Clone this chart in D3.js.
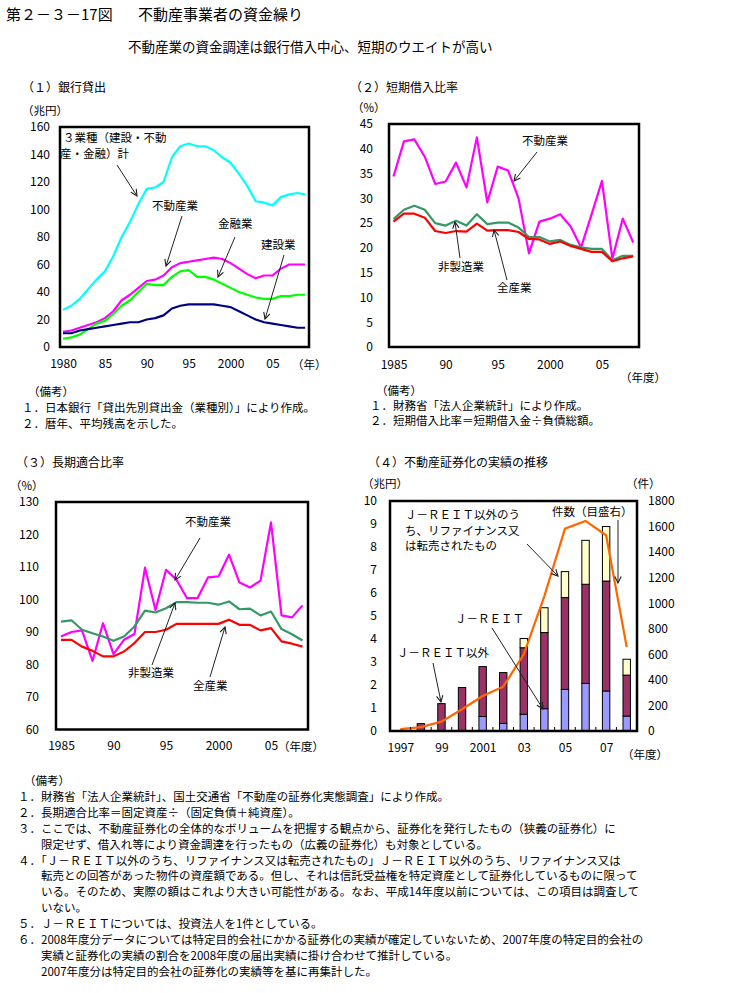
<!DOCTYPE html>
<html><head><meta charset="utf-8">
<script src="https://cdn.jsdelivr.net/npm/d3@7/dist/d3.min.js"></script>
<style>
body{margin:0;background:#fff;}
svg text{font-family:"Noto Sans CJK JP","Noto Sans",sans-serif;fill:#000;}
</style></head><body>
<svg id="chart" width="745" height="993"></svg>
<script>
// ---------- DATA ----------
// (1) Bank lending (trillion yen), points at start of each year, last = end of 2008
const bankYears = [1980,1981,1982,1983,1984,1985,1986,1987,1988,1989,1990,1991,1992,1993,1994,1995,1996,1997,1998,1999,2000,2001,2002,2003,2004,2005,2006,2007,2008,2008.9];
const bankTotal3 = [27,30,35,42,49,55,66,80,91,104,115,116,120,138,146,148,146,146,143,138,134,126,117,106,105,103,109,111,112,111];
const bankRealEstate = [11,12,14,16,18,21,26,34,38,43,48,49,52,58,61,62,63,64,65,64,61,57,53,50,52,52,57,60,60,60];
const bankFinance = [6,7,9,13,17,19,24,30,34,40,46,45,45,51,55,56,51,51,49,46,43,40,38,36,35,35,37,37,38,38];
const bankConstruction = [10,10,12,13,14,15,16,17,18,18,20,21,23,28,30,31,31,31,31,30,29,26,23,20,18,17,16,15,14,14];
const bankTickYears = [1980,1985,1990,1995,2000,2005];
const bankTickLabels = ["1980","85","90","95","2000","05"];

// (2) Short-term borrowing ratio (%), fiscal years
const fyYears = [1985,1986,1987,1988,1989,1990,1991,1992,1993,1994,1995,1996,1997,1998,1999,2000,2001,2002,2003,2004,2005,2006,2007,2008];
const stRealEstate = [34.4,41.5,41.9,38.4,32.9,33.4,37.2,32.2,42.3,29.2,36.4,35.6,30.0,18.9,25.3,25.9,26.8,24.3,20.1,26.7,33.5,17.8,25.9,21.1];
const stNonMfg = [25.8,27.7,28.5,27.7,25.0,24.5,25.5,24.5,26.8,24.8,25.1,25.1,24.1,22.2,22.2,21.3,21.6,20.6,20.1,19.8,19.8,17.5,18.4,18.4];
const stAll = [25.3,26.9,26.9,26.1,23.4,23.0,23.4,23.3,24.9,23.5,23.6,23.6,23.2,21.8,21.7,20.8,21.3,20.4,19.8,19.2,19.2,17.3,17.9,18.3];
const fyTickYears = [1985,1990,1995,2000,2005];
const fyTickLabels = ["1985","90","95","2000","05"];

// (3) Long-term fitness ratio (%)
const ltRealEstate = [88.6,90.0,90.5,81.1,92.7,83.2,87.6,89.4,109.8,96.8,109.1,106.1,100.4,100.4,106.8,107.1,113.8,105.2,103.7,105.8,123.7,95.1,94.5,98.2];
const ltNonMfg = [93.2,93.6,90.7,89.6,88.6,87.3,88.6,91.7,96.6,96.0,97.3,99.2,99.2,99.0,99.0,98.4,99.4,97.0,97.2,95.1,96.3,90.9,89.3,87.4];
const ltAll = [87.6,87.6,85.5,84.2,82.5,82.5,84.0,86.6,90.0,90.0,90.7,92.5,92.5,92.5,92.5,92.5,93.8,92.2,92.2,90.5,91.2,87.1,86.4,85.5];

// (4) Real-estate securitization (trillion yen) and count (right axis)
const secYears = [1997,1998,1999,2000,2001,2002,2003,2004,2005,2006,2007,2008];
const secJreit = [0,0,0,0,0.63,0.33,0.73,0.97,1.81,2.07,1.74,0.65];
const secOther = [0,0.32,1.19,1.89,2.17,2.21,2.89,3.31,3.99,4.31,4.78,1.78];
const secRefi = [0,0,0,0,0,0,0.40,1.08,1.13,1.91,2.37,0.69];
const secCount = [15,30,73,170,274,347,600,1056,1584,1644,1532,657];
const secTickYears = [1997,1999,2001,2003,2005,2007];
const secTickLabels = ["1997","99","2001","03","05","07"];

const notesTop = ["（備考）","１．日本銀行「貸出先別貸出金（業種別）」により作成。","２．暦年、平均残高を示した。"];
const notesTop2 = ["（備考）","１．財務省「法人企業統計」により作成。","２．短期借入比率＝短期借入金÷負債総額。"];
const notesBottom = [
 "（備考）",
 "１．財務省「法人企業統計」、国土交通省「不動産の証券化実態調査」により作成。",
 "２．長期適合比率＝固定資産÷（固定負債＋純資産）。",
 "３．ここでは、不動産証券化の全体的なボリュームを把握する観点から、証券化を発行したもの（狭義の証券化）に",
 "　　限定せず、借入れ等により資金調達を行ったもの（広義の証券化）も対象としている。",
 "４．「Ｊ－ＲＥＩＴ以外のうち、リファイナンス又は転売されたもの」Ｊ－ＲＥＩＴ以外のうち、リファイナンス又は",
 "　　転売との回答があった物件の資産額である。但し、それは信託受益権を特定資産として証券化しているものに限って",
 "　　いる。そのため、実際の額はこれより大きい可能性がある。なお、平成14年度以前については、この項目は調査して",
 "　　いない。",
 "５．Ｊ－ＲＥＩＴについては、投資法人を1件としている。",
 "６．2008年度分データについては特定目的会社にかかる証券化の実績が確定していないため、2007年度の特定目的会社の",
 "　　実績と証券化の実績の割合を2008年度の届出実績に掛け合わせて推計している。",
 "　　2007年度分は特定目的会社の証券化の実績等を基に再集計した。"
];

// ---------- DRAW ----------
const svg = d3.select("#chart");
svg.append("rect").attr("width",745).attr("height",993).attr("fill","#fff");
const defs = svg.append("defs");
defs.append("marker").attr("id","arr").attr("viewBox","0 0 10 10").attr("refX",9).attr("refY",5)
  .attr("markerWidth",8).attr("markerHeight",8).attr("orient","auto").attr("markerUnits","userSpaceOnUse")
  .append("path").attr("d","M1,1 L9,5 L1,9").attr("fill","none").attr("stroke","#222").attr("stroke-width",1.4);

function txt(x,y,s,size,anchor){
  return svg.append("text").attr("x",x).attr("y",y).attr("font-size",size||11.5)
    .attr("text-anchor",anchor||"start").text(s);
}
function arrow(x1,y1,x2,y2){
  svg.append("line").attr("x1",x1).attr("y1",y1).attr("x2",x2).attr("y2",y2)
    .attr("stroke","#222").attr("stroke-width",1).attr("marker-end","url(#arr)");
}
function frame(x0,y0,x1,y1){
  svg.append("rect").attr("x",x0).attr("y",y0).attr("width",x1-x0).attr("height",y1-y0)
    .attr("fill","none").attr("stroke","#000").attr("stroke-width",2.5);
}
function styleAxis(g){
  g.select(".domain").remove();
  g.selectAll("text").attr("font-family","Liberation Serif").attr("font-size",12);
}
function leftAxis(scale,ticks,xpos,pad){
  const g = svg.append("g").attr("transform",`translate(${xpos},0)`)
    .call(d3.axisLeft(scale).tickValues(ticks).tickFormat(d3.format("d")).tickSize(0).tickPadding(pad));
  styleAxis(g);
}
function bottomAxis(scale,ticks,labels,ypos,pad){
  const g = svg.append("g").attr("transform",`translate(0,${ypos})`)
    .call(d3.axisBottom(scale).tickValues(ticks).tickFormat((d,i)=>labels[i]).tickSize(0).tickPadding(pad));
  styleAxis(g);
}
function series(xs,ys,xScale,yScale,color){
  const line = d3.line().x(d=>xScale(d[0])).y(d=>yScale(d[1]));
  svg.append("path").datum(xs.map((x,i)=>[x,ys[i]])).attr("d",line)
    .attr("fill","none").attr("stroke",color).attr("stroke-width",2.2).attr("stroke-linejoin","round");
}

// Headings
txt(6,20,"第２－３－17図",15);
txt(138,20,"不動産事業者の資金繰り",15);
txt(128,52,"不動産業の資金調達は銀行借入中心、短期のウエイトが高い",13.5);

// ===== Panel 1 =====
txt(22,92,"（１）銀行貸出",12);
txt(22,115,"（兆円）",11.5);
const p1x = d3.scaleLinear().domain([1980,2009]).range([63,306]);
const p1y = d3.scaleLinear().domain([0,160]).range([347,127]);
series(bankYears,bankTotal3,p1x,p1y,"#00FFFF");
series(bankYears,bankRealEstate,p1x,p1y,"#FF00FF");
series(bankYears,bankFinance,p1x,p1y,"#00FF00");
series(bankYears,bankConstruction,p1x,p1y,"#000080");
frame(60,127,309,347);
leftAxis(p1y,[0,20,40,60,80,100,120,140,160],60,10);
bottomAxis(p1x,bankTickYears,bankTickLabels,347,12);
txt(292,369,"（年）",11.5);
txt(63,142,"３業種（建設・不動",11.5);
txt(60,158,"産・金融）計",11.5);
arrow(117,165,137,196);
txt(152,210,"不動産業",11.5);
arrow(182,216,166,266);
txt(218,228,"金融業",11.5);
arrow(235,237,218,277);
txt(261,249,"建設業",11.5);
arrow(284,255,265,319);

// ===== Panel 2 =====
txt(350,92,"（２）短期借入比率",12);
txt(352,112,"（%）",11.5);
const p2x = d3.scaleLinear().domain([1985,2008]).range([393.5,633.2]);
const p2y = d3.scaleLinear().domain([0,45]).range([347,124]);
series(fyYears,stRealEstate,p2x,p2y,"#FF00FF");
series(fyYears,stNonMfg,p2x,p2y,"#339966");
series(fyYears,stAll,p2x,p2y,"#FF0000");
frame(389,124,639,347);
leftAxis(p2y,[0,5,10,15,20,25,30,35,40,45],389,16);
bottomAxis(p2x,fyTickYears,fyTickLabels,347,13);
txt(620,382,"（年度）",11.5);
txt(522,145,"不動産業",11.5);
arrow(537,152,514,181);
txt(438,271,"非製造業",11.5);
arrow(460,258,455,222);
txt(497,292,"全産業",11.5);
arrow(507,280,494,230);

// notes under panels 1,2
notesTop.forEach((s,i)=>txt(i===0?28:22,396+i*16,s,11.5));
notesTop2.forEach((s,i)=>txt(i===0?376:370,395+i*15,s,11.5));

// ===== Panel 3 =====
txt(16,467,"（３）長期適合比率",12);
txt(10,490,"（%）",11.5);
const p3x = d3.scaleLinear().domain([1985,2008]).range([61,302.5]);
const p3y = d3.scaleLinear().domain([60,130]).range([729.5,502]);
series(fyYears,ltRealEstate,p3x,p3y,"#FF00FF");
series(fyYears,ltNonMfg,p3x,p3y,"#339966");
series(fyYears,ltAll,p3x,p3y,"#FF0000");
frame(56,502,308,729.5);
leftAxis(p3y,[60,70,80,90,100,110,120,130],56,17);
bottomAxis(p3x,fyTickYears,fyTickLabels,729.5,12);
txt(278,751,"（年度）",11.5);
txt(185,526,"不動産業",11.5);
arrow(200,538,175,580);
txt(128,677,"非製造業",11.5);
arrow(152,665,175,603);
txt(193,690,"全産業",11.5);
arrow(210,677,225,627);

// ===== Panel 4 =====
txt(368,467,"（４）不動産証券化の実績の推移",12);
txt(362,488,"（兆円）",11.5);
txt(626,488,"（件）",11.5);
const p4x = d3.scaleBand().domain(secYears).range([390,637]).padding(0);
const p4y = d3.scaleLinear().domain([0,10]).range([731,501]);
const p4r = d3.scaleLinear().domain([0,1800]).range([731,501]);
const bw = p4x.bandwidth()*0.36;
const stackKeys = ["jreit","other","refi"];
const stackColors = {jreit:"#9999FF",other:"#993366",refi:"#FFFFCC"};
const secRows = secYears.map((y,i)=>({year:y,jreit:secJreit[i],other:secOther[i],refi:secRefi[i]}));
const stacked = d3.stack().keys(stackKeys)(secRows);
stacked.forEach(layer=>{
  svg.append("g").selectAll("rect").data(layer.filter(d=>d[1]-d[0]>0)).join("rect")
    .attr("x",d=>p4x(d.data.year)+p4x.bandwidth()/2-bw/2)
    .attr("width",bw)
    .attr("y",d=>p4y(d[1]))
    .attr("height",d=>p4y(d[0])-p4y(d[1]))
    .attr("fill",stackColors[layer.key]).attr("stroke","#000").attr("stroke-width",1);
});
const cntLine = d3.line().x((d,i)=>p4x(secYears[i])+p4x.bandwidth()/2).y(d=>p4r(d));
svg.append("path").datum(secCount).attr("d",cntLine).attr("fill","none")
  .attr("stroke","#FF6600").attr("stroke-width",2.2);
frame(390,501,637,731);
// small inner ticks at band boundaries
svg.append("g").selectAll("line").data(secYears.slice(1)).join("line")
  .attr("x1",d=>p4x(d)).attr("x2",d=>p4x(d)).attr("y1",731).attr("y2",727)
  .attr("stroke","#000").attr("stroke-width",1);
leftAxis(p4y,[0,1,2,3,4,5,6,7,8,9,10],390,13);
{
  const g = svg.append("g").attr("transform","translate(637,0)")
    .call(d3.axisRight(p4r).tickValues([0,200,400,600,800,1000,1200,1400,1600,1800]).tickFormat(d3.format("d")).tickSize(0).tickPadding(11));
  styleAxis(g);
}
const p4xl = d3.scaleLinear().domain([1997,2008]).range([p4x(1997)+p4x.bandwidth()/2, p4x(2008)+p4x.bandwidth()/2]);
bottomAxis(p4xl,secTickYears,secTickLabels,731,12);
txt(622,759,"（年度）",11.5);
txt(405,519,"Ｊ－ＲＥＩＴ以外のう",11.5);
txt(405,535,"ち、リファイナンス又",11.5);
txt(405,550,"は転売されたもの",11.5);
arrow(527,544,558,576);
txt(552,516,"件数（目盛右）",11.5);
arrow(618,520,618,583);
txt(455,623,"Ｊ－ＲＥＩＴ",11.5);
arrow(492,628,543,709);
txt(397,657,"Ｊ－ＲＥＩＴ以外",11.5);
arrow(433,663,441,702);

// bottom notes
notesBottom.forEach((s,i)=>txt(i===0?24:18,785+i*15.9,s,11.5));
</script>
</body></html>
